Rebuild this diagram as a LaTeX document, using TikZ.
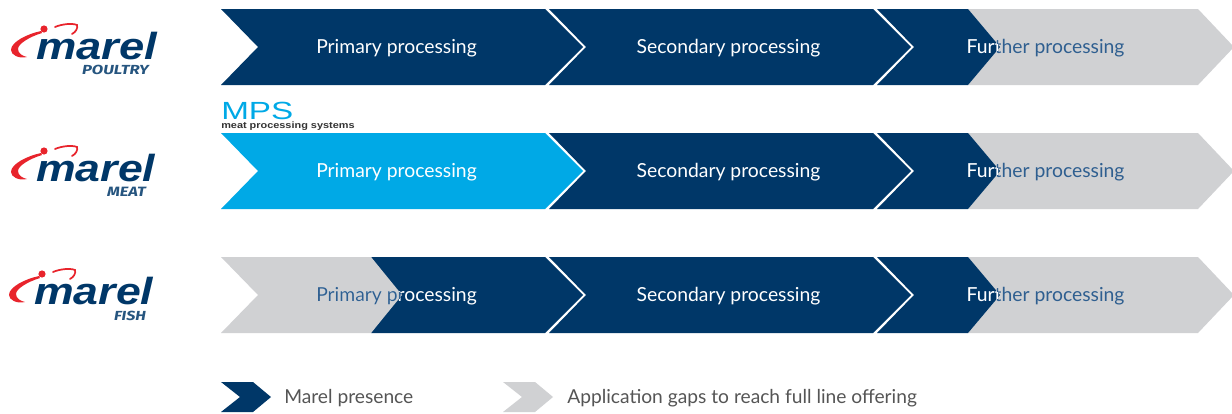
\documentclass[tikz,border=0pt]{standalone}
\usepackage{fontspec}
\setmainfont{Lato}
\newfontfamily\logofont{Liberation Sans}
\newfontfamily\subfont{Fira Sans}
\definecolor{navy}{HTML}{003768}
\definecolor{gapgray}{HTML}{D0D1D3}
\definecolor{mpsblue}{HTML}{00A9E6}
\definecolor{midtext}{HTML}{2F5F90}
\definecolor{logored}{HTML}{E8242C}
\definecolor{legendtext}{HTML}{555555}
\tikzset{
  stagelabel/.style={inner sep=0pt,font=\fontsize{14.5}{17}\selectfont},
  legendlabel/.style={inner sep=0pt,anchor=west,text=legendtext,font=\fontsize{14.4}{17}\selectfont},
  redswoosh/.style={draw=logored,line cap=round,fill=none},
  wordmark/.style={inner sep=0pt,anchor=south west,text=navy},
  sublabel/.style={inner sep=0pt,text=navy!85!white},
}
% x1, x2, y-centre, tip depth
\newcommand{\chevshape}[4]{(#1,#3-38) -- (#2,#3-38) -- (#2+#4,#3) -- (#2,#3+38) -- (#1,#3+38) -- (#1+37,#3) -- cycle}
% x1, x2, y-centre, tip depth, notch depth (for shapes that meet a neighbour)
\newcommand{\meetshape}[5]{(#1,#3-38) -- (#2,#3-38) -- (#2+#4,#3) -- (#2,#3+38) -- (#1,#3+38) -- (#1+#5,#3) -- cycle}
\newcommand{\logomark}[7]{% x,y shift, width in pt, subtitle, sub x, sub y, sub width in pt
  \begin{scope}[shift={(#1,#2)}]
    \fill[logored] (41,31) .. controls (27,34) and (11,42) .. (11,50) .. controls (11,55) and (19,59) .. (27,57) .. controls (22,56) and (18,53) .. (18,49) .. controls (18,44) and (29,37) .. (42,33) -- cycle;
    \fill[logored] (44,29) circle (3.6);
    \draw[redswoosh,line width=1.3pt] (55,27) .. controls (62,24) and (72,23) .. (77,25) .. controls (78,28) and (76,32) .. (72,34);
    \node[wordmark] (word#4) at (36,60.5) {\resizebox{#3pt}{20.5pt}{\logofont\bfseries\itshape marel}};
  \end{scope}
  \node[sublabel] (sub#4) at (#5,#6) {\resizebox{#7pt}{7pt}{\subfont\bfseries\itshape #4}};
}
\begin{document}
\begin{tikzpicture}[x=0.75pt,y=-0.75pt]
\useasboundingbox (0,0) rectangle (1232,414);
\clip (0,0) rectangle (1232,414);

% ---------- row 1
\fill[gapgray] \meetshape{968}{1198}{47}{36}{30};
\fill[navy] \chevshape{221}{545}{47}{38};
\fill[navy] \chevshape{549}{873}{47}{38};
\fill[navy] \chevshape{877}{968}{47}{32};
\node[stagelabel,text=white] (p1) at (396.5,48) {Primary processing};
\node[stagelabel,text=white] (s1) at (728.5,48) {Secondary processing};
\node[stagelabel,text=midtext] (f1) at (1045.5,48) {Further processing};
\begin{scope}
  \clip \chevshape{877}{968}{47}{32};
  \node[stagelabel,text=white] (f1w) at (1045.5,48) {Further processing};
\end{scope}

% ---------- row 2
\fill[gapgray] \meetshape{968}{1198}{171}{36}{30};
\fill[mpsblue] \chevshape{221}{545}{171}{38};
\fill[navy] \chevshape{549}{873}{171}{38};
\fill[navy] \chevshape{877}{968}{171}{32};
\node[stagelabel,text=white] (p2) at (396.5,172) {Primary processing};
\node[stagelabel,text=white] (s2) at (728.5,172) {Secondary processing};
\node[stagelabel,text=midtext] (f2) at (1045.5,172) {Further processing};
\begin{scope}
  \clip \chevshape{877}{968}{171}{32};
  \node[stagelabel,text=white] (f2w) at (1045.5,172) {Further processing};
\end{scope}

% ---------- row 3
\fill[navy] \meetshape{371}{545}{295}{38}{29};
\fill[gapgray] \chevshape{221}{371}{295}{31};
\fill[navy] \chevshape{549}{873}{295}{38};
\fill[gapgray] \meetshape{968}{1198}{295}{36}{30};
\fill[navy] \chevshape{877}{968}{295}{32};
\node[stagelabel,text=white] (p3) at (396.5,296) {Primary processing};
\begin{scope}
  \clip \chevshape{221}{371}{295}{31};
  \node[stagelabel,text=midtext] (p3g) at (396.5,296) {Primary processing};
\end{scope}
\node[stagelabel,text=white] (s3) at (728.5,296) {Secondary processing};
\node[stagelabel,text=midtext] (f3) at (1045.5,296) {Further processing};
\begin{scope}
  \clip \chevshape{877}{968}{295}{32};
  \node[stagelabel,text=white] (f3w) at (1045.5,296) {Further processing};
\end{scope}

% ---------- logos
\logomark{0}{0}{90.75}{POULTRY}{115.5}{70}{50}
\logomark{0}{122}{89.25}{MEAT}{126.5}{192}{29}
\logomark{-2}{245}{89.25}{FISH}{130}{316}{24}

% ---------- MPS
\node[inner sep=0pt,anchor=south west,text=mpsblue] (mps) at (221,120) {\resizebox{54pt}{13pt}{\logofont MPS}};
\node[inner sep=0pt,anchor=west,text=black!80] (mpssub) at (221,126.5) {\resizebox{100pt}{5pt}{\logofont\bfseries meat processing systems}};

% ---------- legend
\fill[navy] (221,382) -- (253,382) -- (271,397) -- (253,412) -- (221,412) -- (240,397) -- cycle;
\node[legendlabel] (lg1) at (284,398) {Marel presence};
\fill[gapgray] (503,382) -- (535,382) -- (553,397) -- (535,412) -- (503,412) -- (522,397) -- cycle;
\node[legendlabel] (lg2) at (567,398) {Application gaps to reach full line offering};
\end{tikzpicture}
\end{document}
